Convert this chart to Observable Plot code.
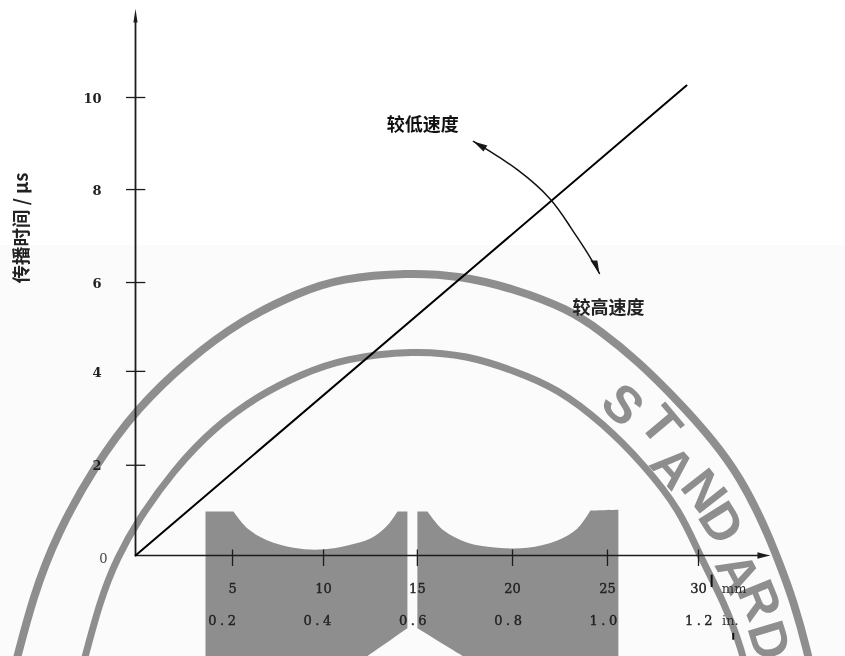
<!DOCTYPE html>
<html><head><meta charset="utf-8">
<script src="https://cdn.jsdelivr.net/npm/d3@7"></script>
<script src="https://cdn.jsdelivr.net/npm/@observablehq/plot@0.6"></script>
<style>html,body{margin:0;padding:0;background:#fff}svg{display:block}.wide{letter-spacing:3.5px}</style>
</head><body><div id="chart"></div>
<script>
// chart data (x in mm, y in microseconds)
const traceX = [0, 29.36];
const traceY = [0, 10.26];
const sweepX = [18.01, 18.65, 20.35, 22.22, 23.18, 24.08, 24.72];
const sweepY = [9.04, 8.89, 8.45, 7.79, 7.16, 6.62, 6.16];
const xTickPos = [5.17, 10.02, 15.02, 20.09, 25.15, 30];
const mmLabels = ["5", "10", "15", "20", "25", "30"];
const inchValues = [0.2, 0.4, 0.6, 0.8, 1.0, 1.2];
const inchLabels = ["0.2", "0.4", "0.6", "0.8", "1.0", "1.2"];
const yTickPos = [1.97, 4.02, 5.96, 7.99, 10];
const yLabels = ["2", "4", "6", "8", "10"];
// watermark, read in the same units
const outerX = [-6.6,-5.43,-4.16,-2.24,0.11,2.77,5.59,8.79,10.92,14.49,17.31,20.14,23.02,24.77,26.74,29.04,30.79,32.23,33.46,34.26,35.06,35.86,36.1];
const outerY = [-2.7,-0.83,0.48,1.92,3.23,4.26,5.13,5.76,6.05,6.18,6.11,5.83,5.39,4.91,4.26,3.32,2.51,1.70,0.70,-0.11,-0.98,-2.18,-2.7];
const innerX = [-3.0,-1.86,-0.96,0.11,2.02,4.16,6.66,8.79,11.08,14.81,17.69,20.14,22.48,24.93,27.06,29.04,30.10,31.33,32.39,32.6];
const innerY = [-2.7,-0.92,-0.04,0.76,1.86,2.79,3.52,3.95,4.30,4.48,4.37,4.04,3.65,2.88,2.00,0.98,-0.04,-0.98,-2.14,-2.7];
const leftTopX = [5.97,7.03,8.42,9.86,11.29,12.52,13.43];
const leftTopY = [0.59,0.33,0.17,0.13,0.22,0.37,0.66];
const rightTopX = [16.41,17.69,19.29,20.88,22.48,23.55];
const rightTopY = [0.55,0.28,0.17,0.17,0.33,0.59];
const stamp = ["S","T","A","N","D","A","R","D"];
const stampX = [25.94,27.97,28.61,30.26,31.17,32.07,33.19,33.72];
const stampY = [3.28,2.84,1.92,1.40,0.70,-0.39,-0.98,-1.86];
const stampAngle = [45,50,48,52,58,62,68,73];
// scan specks
const speckX = [30.7, 31.85];
const speckTop = [-0.43, -1.7];
const speckBottom = [-0.7, -1.85];

const zip = (xs, ys) => xs.map((x, i) => ({x, y: ys[i]}));
const corner = (x, y) => [{x, y}, {x, y}];
const BOTTOM = -2.3;
const serif = "DejaVu Serif";
const cjk = "'Noto Sans CJK SC'";
const gray = "#8e8e8e";
const ink = "#1c1c1c";

const leftPoly = [...corner(3.73,BOTTOM),...corner(3.73,0.96),...corner(5.22,0.96),...zip(leftTopX,leftTopY),...corner(13.96,0.96),...corner(14.49,0.96),...corner(14.49,-1.59),...corner(12.0,BOTTOM)];
const rightPoly = [...corner(15.02,0.96),...corner(15.56,0.96),...zip(rightTopX,rightTopY),...corner(24.24,0.98),...corner(25.73,1.0),...corner(25.73,BOTTOM),...corner(17.85,BOTTOM),...corner(15.02,-1.59)];

const arrowHeads = [
  [{x:18.01,y:9.04},{x:18.54,y:8.82},{x:18.75,y:8.95}],
  [{x:24.72,y:6.16},{x:24.24,y:6.44},{x:24.61,y:6.44}],
  [{x:33.83,y:0},{x:33.14,y:0.07},{x:33.14,y:-0.07}],
  [{x:0,y:11.94},{x:-0.11,y:11.64},{x:0.11,y:11.64}]
];

const chart = Plot.plot({
  width: 845, height: 656, margin: 0,
  style: {background: "#fff", filter: "blur(0.35px)"},
  x: {domain: [0, 30], range: [135, 698], axis: null},
  y: {domain: [0, 10], range: [555, 97], axis: null},
  marks: [
    Plot.rect([0], {x1: () => -8, x2: () => 38, y1: () => -2.4, y2: () => 6.77, fill: "#fbfbfb"}),
    Plot.line(leftPoly, {x: "x", y: "y", fill: gray, stroke: "none", curve: "catmull-rom"}),
    Plot.line(rightPoly, {x: "x", y: "y", fill: gray, stroke: "none", curve: "catmull-rom"}),
    Plot.line(zip(outerX, outerY), {x: "x", y: "y", stroke: gray, strokeWidth: 8, curve: "basis"}),
    Plot.line(zip(innerX, innerY), {x: "x", y: "y", stroke: gray, strokeWidth: 7, curve: "basis"}),
    Plot.text(stamp, {x: (d, i) => stampX[i], y: (d, i) => stampY[i], text: d => d, rotate: (d, i) => stampAngle[i],
      fontFamily: "Liberation Sans", fontWeight: "bold", fontSize: 52, fill: gray, textAnchor: "middle", lineAnchor: "middle"}),
    // axes
    Plot.ruleY([0], {x1: 0, x2: 33.4, stroke: ink, strokeWidth: 1.6}),
    Plot.ruleX([0], {y1: 0, y2: 11.7, stroke: ink, strokeWidth: 1.8}),
    ...arrowHeads.map(h => Plot.line(h, {x: "x", y: "y", fill: ink, stroke: "none"})),
    Plot.ruleY(yTickPos, {x1: -0.48, x2: 0.55, stroke: ink, strokeWidth: 1.3}),
    Plot.ruleX(xTickPos, {y1: 0.12, y2: -0.24, stroke: ink, strokeWidth: 1.3}),
    Plot.ruleX(speckX, {y1: (d, i) => speckTop[i], y2: (d, i) => speckBottom[i], stroke: "#111", strokeWidth: 2}),
    // trace and sweep
    Plot.line(zip(traceX, traceY), {x: "x", y: "y", stroke: "#000", strokeWidth: 2}),
    Plot.line(zip(sweepX, sweepY), {x: "x", y: "y", stroke: "#111", strokeWidth: 1.5, curve: "basis"}),
    // labels
    Plot.text(mmLabels, {x: (d, i) => xTickPos[i], y: () => -0.73, text: d => d, fontFamily: serif, fontSize: 13, fill: "#222", stroke: "#222", strokeWidth: 0.4}),
    Plot.text(inchLabels, {x: (d, i) => inchValues[i] * 25.4, y: () => -1.43, dx: -7, text: d => d, fontFamily: serif, fontSize: 13, fill: "#222", stroke: "#222", strokeWidth: 0.4, className: "wide"}),
    Plot.text(["mm"], {x: () => 31.9, y: () => -0.73, fontFamily: serif, fontSize: 13, fill: "#333", text: d => d}),
    Plot.text(["in."], {x: () => 31.7, y: () => -1.43, fontFamily: serif, fontSize: 13, fill: "#333", text: d => d}),
    Plot.text(yLabels, {x: () => 0, y: (d, i) => yTickPos[i], dx: -34, dy: 1, textAnchor: "end", text: d => d, fontFamily: serif, fontWeight: "bold", fontSize: 13, fill: "#222"}),
    Plot.text(["0"], {x: () => 0, y: () => 0, dx: -28, dy: 3, textAnchor: "end", text: d => d, fontFamily: serif, fontSize: 13, fill: "#444"}),
    Plot.text(["较低速度"], {x: () => 15.3, y: () => 9.4, text: d => d, fontFamily: cjk, fontWeight: "bold", fontSize: 18, fill: "#111"}),
    Plot.text(["较高速度"], {x: () => 25.2, y: () => 5.4, text: d => d, fontFamily: cjk, fontWeight: "bold", fontSize: 18, fill: "#222"}),
    Plot.text(["传播时间 / μs"], {x: () => -6.02, y: () => 7.15, rotate: -90, text: d => d, fontFamily: cjk, fontWeight: "bold", fontSize: 18.5, fill: "#222"})
  ]
});
document.getElementById("chart").appendChild(chart);
</script>
</body></html>
